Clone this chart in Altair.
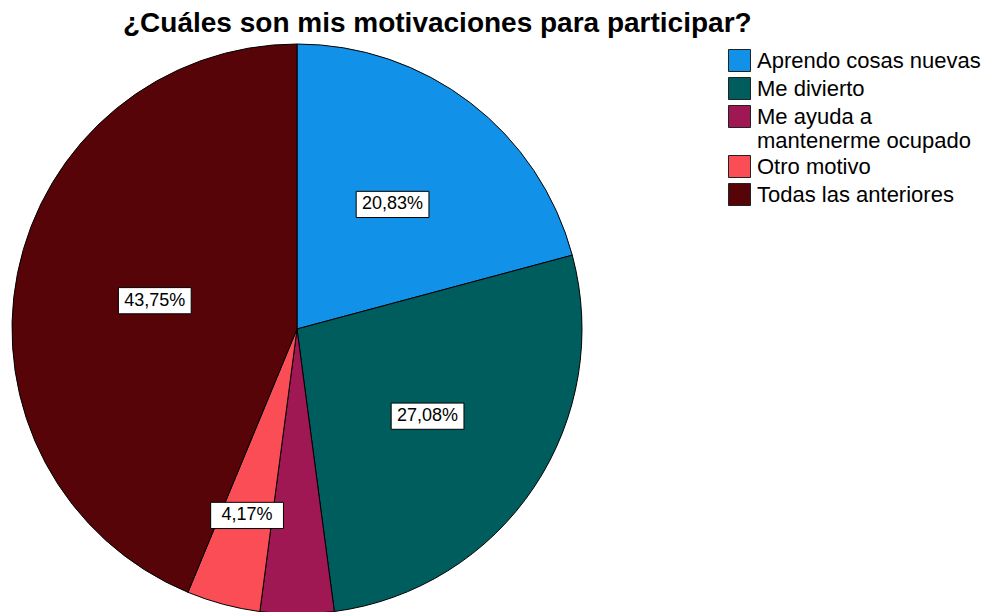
import altair as alt
import pandas as pd

categorias = ["Aprendo cosas nuevas", "Me divierto", "Me ayuda a mantenerme ocupado",
              "Otro motivo", "Todas las anteriores"]
porcentajes = [20.83, 27.08, 4.17, 4.17, 43.75]
colores = ["#1192e8", "#005d5d", "#9f1853", "#fa4d56", "#570408"]
mostrar_etiqueta = [True, True, False, True, True]

df = pd.DataFrame({
    "categoria": categorias,
    "pct": porcentajes,
    "orden": list(range(len(categorias))),
    "etiqueta": [f"{v:.2f}".replace(".", ",") + "%" for v in porcentajes],
    "mostrar": mostrar_etiqueta,
})

CX, CY, R = 289, 277, 285

base = alt.Chart(df)

pie = base.mark_arc(radius=R, stroke="black", strokeWidth=1).encode(
    theta=alt.Theta("pct:Q", stack=True),
    color=alt.Color(
        "categoria:N",
        scale=alt.Scale(domain=categorias, range=colores),
        legend=alt.Legend(
            title=None,
            orient="none",
            legendX=720,
            legendY=-3,
            symbolType="square",
            symbolSize=484,
            symbolStrokeColor="#222222",
            symbolStrokeWidth=1,
            symbolOpacity=1,
            labelFont="Liberation Sans",
            labelFontSize=22,
            labelColor="black",
            labelOffset=6,
            labelLimit=400,
            rowPadding=1,
            labelExpr="datum.label == 'Me ayuda a mantenerme ocupado' ? ['Me ayuda a', 'mantenerme ocupado'] : datum.label",
        ),
    ),
    order=alt.Order("orden:Q"),
    x=alt.value(CX),
    y=alt.value(CY),
)

pos = base.transform_window(
    cum="sum(pct)", sort=[alt.SortField("orden")]
).transform_calculate(
    mid="(datum.cum - datum.pct / 2) / 100 * 2 * PI",
    rl="datum.pct < 5 ? 193 : (datum.pct > 40 ? 145 : 157)",
).transform_calculate(
    px=f"{CX} + datum.rl * sin(datum.mid)",
    py=f"{CY} - datum.rl * cos(datum.mid)",
).transform_filter("datum.mostrar")

cajas = pos.mark_point(
    shape="M-1,-0.36H1V0.36H-1Z", size=5300, filled=True, fill="white",
    stroke="black", strokeWidth=1, opacity=1,
).encode(
    x=alt.X("px:Q", scale=None),
    y=alt.Y("py:Q", scale=None),
)

textos = pos.mark_text(
    font="Liberation Sans", fontSize=18, color="black", baseline="middle", align="center",
).encode(
    x=alt.X("px:Q", scale=None),
    y=alt.Y("py:Q", scale=None),
    text="etiqueta:N",
)

chart = alt.layer(pie, cajas, textos).properties(
    width=975,
    height=560,
    autosize=alt.AutoSizeParams(type="none"),
    padding={"left": 0, "top": 44, "right": 0, "bottom": 0},
    title=alt.TitleParams(
        text="¿Cuáles son mis motivaciones para participar?",
        font="Liberation Sans",
        fontSize=28,
        fontWeight="bold",
        color="black",
        anchor="start",
        frame="group",
        dx=115,
        offset=4,
    ),
).configure_view(stroke=None)

chart.save("out.html", embed_options={"renderer": "svg", "actions": False})
